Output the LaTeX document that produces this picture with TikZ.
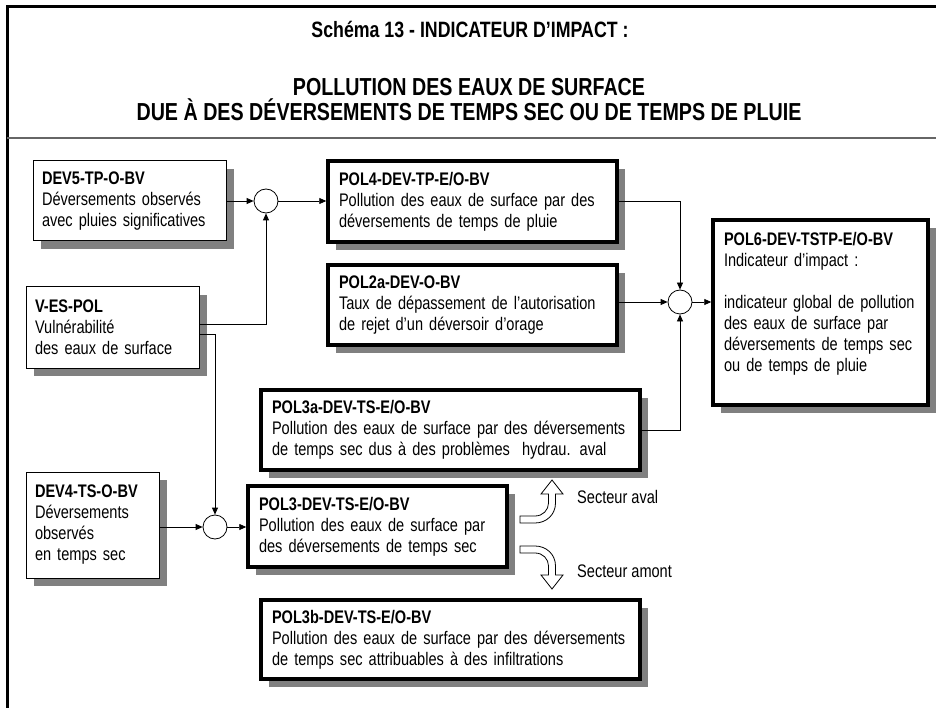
\documentclass[tikz,border=0pt]{standalone}
\usepackage{fontspec}
\setmainfont{Liberation Sans}[FakeStretch=0.80]
\usetikzlibrary{arrows.meta,shadows,calc}
\newcommand\myBody{\fontsize{18.2}{21}\selectfont}
\newcommand\myTitleA{\fontsize{22.2}{27}\selectfont\bfseries}
\newcommand\myTitleB{\fontsize{24.6}{27}\selectfont\bfseries}
\tikzset{
  shad/.style={drop shadow={shadow xshift=8pt,shadow yshift=-8pt,fill=black!50,opacity=1}},
  thinbox/.style={draw=black,line width=1pt,fill=white,shad,align=left,inner xsep=9pt,inner ysep=0pt,font=\myBody},
  thickbox/.style={draw=black,line width=3.5pt,fill=white,shad,align=left,inner xsep=11pt,inner ysep=0pt,font=\myBody},
  junc/.style={circle,draw=black,line width=0.8pt,fill=white,minimum size=24pt,inner sep=0pt},
  arr/.style={line width=0.8pt,-{Triangle[length=7pt,width=6pt]}},
  conn/.style={line width=0.8pt},
  hollow/.style={draw=black,line width=0.8pt,fill=white,line join=miter},
  lbl/.style={font=\myBody,anchor=west,inner sep=0pt},
  ttlA/.style={font=\myTitleA,anchor=base,inner sep=0pt},
  ttlB/.style={font=\myTitleB,anchor=base,inner sep=0pt}
}
\begin{document}
\begin{tikzpicture}[x=1pt,y=-1pt]
\useasboundingbox (0,0) rectangle (936,708);
% frame
\draw[line width=3pt] (7,712) -- (7,7) -- (940,7);
\draw[line width=2.5pt,black!60] (7,138) -- (940,138);
% title
\node[ttlA] (t1) at (470,38) {Schéma 13 - INDICATEUR D’IMPACT :};
\node[ttlB] (t2) at (469,96) {POLLUTION DES EAUX DE SURFACE};
\node[ttlB] (t3) at (469,121) {DUE À DES DÉVERSEMENTS DE TEMPS SEC OU DE TEMPS DE PLUIE};
% boxes
\node[thinbox,text width=175pt,minimum height=80pt] (dev5) at (129.5,201)
  {\textbf{DEV5-TP-O-BV}\\Déversements observés\\avec pluies significatives};
\node[thinbox,text width=155pt,minimum height=81pt] (ves) at (112.5,327.5)
  {\textbf{V-ES-POL}\\Vulnérabilité\\des eaux de surface};
\node[thinbox,text width=115pt,minimum height=106pt] (dev4) at (92.5,525)
  {\textbf{DEV4-TS-O-BV}\\Déversements\\observés\\en temps sec};
\node[thickbox,text width=267pt,minimum height=81pt] (pol4) at (472.5,201.5)
  {\textbf{POL4-DEV-TP-E/O-BV}\\\mbox{Pollution des eaux de surface par des}\\déversements de temps de pluie};
\node[thickbox,text width=267pt,minimum height=80pt] (pol2a) at (472.5,305)
  {\textbf{POL2a-DEV-O-BV}\\\mbox{Taux de dépassement de l’autorisation}\\de rejet d’un déversoir d’orage};
\node[thickbox,text width=357pt,minimum height=80pt] (pol3a) at (450.5,430)
  {\textbf{POL3a-DEV-TS-E/O-BV}\\\mbox{Pollution des eaux de surface par des déversements}\\\mbox{de temps sec dus à des problèmes\ \ hydrau. aval}};
\node[thickbox,text width=237pt,minimum height=81pt] (pol3) at (377.5,526.5)
  {\textbf{POL3-DEV-TS-E/O-BV}\\\mbox{Pollution des eaux de surface par}\\\mbox{des déversements de temps sec}};
\node[thickbox,text width=357pt,minimum height=79pt] (pol3b) at (450.5,639.5)
  {\textbf{POL3b-DEV-TS-E/O-BV}\\\mbox{Pollution des eaux de surface par des déversements}\\\mbox{de temps sec attribuables à des infiltrations}};
\node[thickbox,text width=193pt,minimum height=185pt] (pol6) at (820.5,312.5)
  {\textbf{POL6-DEV-TSTP-E/O-BV}\\Indicateur d’impact :\\\mbox{}\\\mbox{indicateur global de pollution}\\\mbox{des eaux de surface par}\\\mbox{déversements de temps sec}\\\mbox{ou de temps de pluie}\\\mbox{}};
% junctions
\node[junc] (c1) at (266,201) {};
\node[junc] (c2) at (680,302) {};
\node[junc] (c3) at (215,527) {};
% connectors
\draw[arr] (dev5.east) -- (c1.west);
\draw[arr] (c1.east) -- (c1.east -| pol4.west);
\draw[arr] ($(ves.east)+(0,-3)$) -| (c1.south);
\draw[arr] ($(ves.east)+(0,7)$) -| (c3.north);
\draw[arr] (c3.west -| dev4.east) -- (c3.west);
\draw[arr] (c3.east) -- (c3.east -| pol3.west);
\draw[arr] (pol4.east) -| (c2.north);
\draw[arr] (c2.west -| pol2a.east) -- (c2.west);
\draw[arr] (pol3a.east) -| (c2.south);
\draw[arr] (c2.east) -- (c2.east -| pol6.west);
% hollow bent arrows
\draw[hollow] (520,516) -- (535,516) .. controls (543,516) and (548.5,510) .. (548.5,503) -- (548.5,494) -- (541,494) -- (552,480) -- (563,494) -- (555.5,494) -- (555.5,503) .. controls (555.5,515) and (546,523) .. (535,523) -- (520,523) -- cycle;
\draw[hollow] (520,553) -- (535,553) .. controls (543,553) and (548.5,559) .. (548.5,566) -- (548.5,575) -- (541,575) -- (552,589) -- (563,575) -- (555.5,575) -- (555.5,566) .. controls (555.5,554) and (546,546) .. (535,546) -- (520,546) -- cycle;
\node[lbl] (sav) at (577,497) {Secteur aval};
\node[lbl] (sam) at (577,571) {Secteur amont};
\end{tikzpicture}
\end{document}
